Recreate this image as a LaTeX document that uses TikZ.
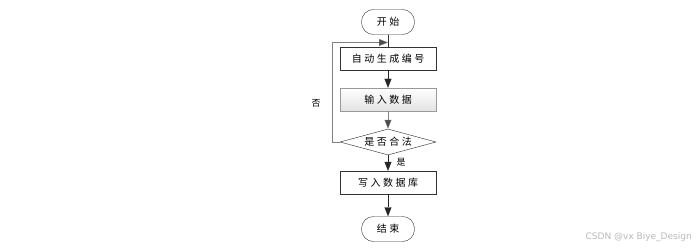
\documentclass[tikz,border=0pt]{standalone}
\usepackage{fontspec}
\newfontfamily\cjk[LetterSpace=25]{Noto Sans CJK SC}
\newfontfamily\wmfont{DejaVu Sans}
\usetikzlibrary{shapes.geometric, arrows.meta}
\begin{document}
\begin{tikzpicture}[>={Triangle[length=9pt, width=7pt]}, x=1pt, y=-1pt,
    term/.style={draw=black!80, rounded corners=12pt, fill=white, minimum width=53pt, minimum height=25pt, font=\cjk\fontsize{10}{12}\selectfont, inner sep=2pt},
    proc/.style={draw=black!80, fill=white, minimum width=96pt, minimum height=23pt, font=\cjk\fontsize{10}{12}\selectfont, inner sep=2pt},
    shadedproc/.style={proc, draw=gray!80, top color=white, bottom color=gray!22},
    dec/.style={diamond, draw=black!85, fill=white, aspect=3.7, minimum width=96pt, minimum height=26pt, inner sep=0pt, font=\cjk\fontsize{10}{12}\selectfont},
    greyarrow/.style={-{Triangle[length=9pt, width=7pt, fill=black!70]}, gray},
    lab/.style={font=\cjk\fontsize{9}{10}\selectfont, inner sep=1pt}]
    \useasboundingbox (0,0) rectangle (698,251);
    % main column
    \node[term] (start) at (388,22) {开始};
    \node[proc] (gen) at (388,58.5) {自动生成编号};
    \node[shadedproc] (input) at (388,99.5) {输入数据};
    \node[dec] (check) at (388,142) {是否合法};
    \node[proc] (write) at (388,182.5) {写入数据库};
    \node[term] (stop) at (388,229) {结束};
    % arrows down the column
    \draw[black!80] (start) -- (gen);
    \foreach \a/\b in {gen/input, check/write, write/stop} \draw[->, black!85] (\a) -- (\b);
    \draw[greyarrow] (input) -- (check);
    % back to the start when the check fails
    \coordinate (rejoin) at (388,42.5);
    \draw[greyarrow] (check.west) -- ++(-8,0) |- (rejoin);
    \node[lab] (no) at (316,103) {否};
    \node[lab] (yes) at (401,162) {是};
    % watermark
    \node[anchor=east, font=\wmfont\fontsize{9}{10}\selectfont, text=gray!55, inner sep=0pt] (mark) at (692,237) {CSDN @vx Biye\_Design};
\end{tikzpicture}
\end{document}
